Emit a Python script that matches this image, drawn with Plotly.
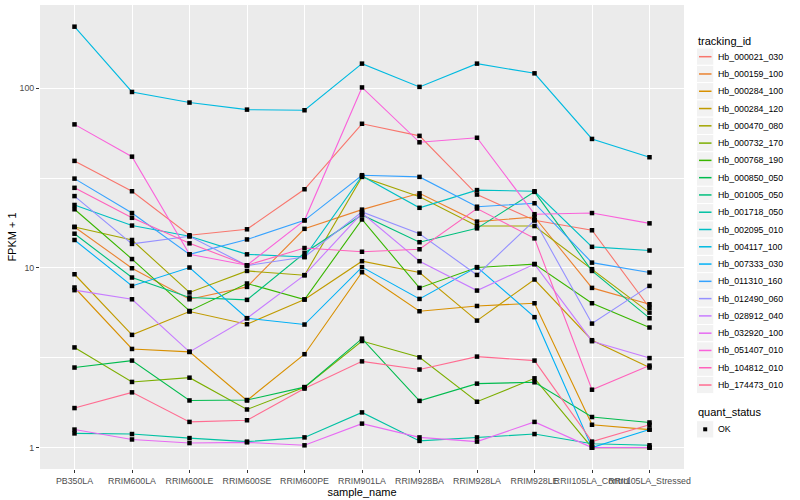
import plotly.graph_objects as go

# ---------------- data ----------------
sample_names = ["PB350LA", "RRIM600LA", "RRIM600LE", "RRIM600SE", "RRIM600PE",
                "RRIM901LA", "RRIM928BA", "RRIM928LA", "RRIM928LE",
                "RRII105LA_Control", "RRII105LA_Stressed"]

tracking_ids = ["Hb_000021_030", "Hb_000159_100", "Hb_000284_100", "Hb_000284_120",
                "Hb_000470_080", "Hb_000732_170", "Hb_000768_190", "Hb_000850_050",
                "Hb_001005_050", "Hb_001718_050", "Hb_002095_010", "Hb_004117_100",
                "Hb_007333_030", "Hb_011310_160", "Hb_012490_060", "Hb_028912_040",
                "Hb_032920_100", "Hb_051407_010", "Hb_104812_010", "Hb_174473_010"]

hue_colors = ["#F8766D", "#EA8331", "#D89000", "#C09B00", "#A3A500", "#7CAE00",
              "#39B600", "#00BB4E", "#00BF7D", "#00C1A3", "#00BFC4", "#00BAE0",
              "#00B0F6", "#35A2FF", "#9590FF", "#C77CFF", "#E76BF3", "#FA62DB",
              "#FF62BC", "#FF6C91"]

# FPKM + 1 per sample (order of sample_names)
hb_000021_030 = [39.4, 26.7, 15.2, 16.4, 27.4, 63.4, 54.3, 25.6, 18.4, 16.2, 6.0]
hb_000159_100 = [16.9, 9.96, 6.69, 7.84, 16.5, 21.1, 26.0, 18.1, 19.2, 7.74, 6.28]
hb_000284_100 = [7.78, 3.54, 3.41, 1.83, 3.31, 9.46, 5.74, 6.14, 6.36, 1.34, 1.26]
hb_000284_120 = [9.22, 4.24, 5.72, 4.86, 6.67, 10.9, 9.43, 5.09, 8.62, 3.96, 2.79]
hb_000470_080 = [16.9, 14.3, 7.3, 9.62, 9.11, 32.1, 24.9, 17.1, 17.1, 9.84, 5.64]
hb_000732_170 = [3.61, 2.32, 2.45, 1.63, 2.17, 3.92, 3.18, 1.80, 2.43, 1.0, 1.0]
hb_000768_190 = [21.2, 11.2, 5.76, 8.19, 6.67, 18.6, 7.74, 10.05, 10.5, 6.36, 4.66]
hb_000850_050 = [2.79, 3.05, 1.83, 1.84, 2.17, 4.04, 1.82, 2.27, 2.31, 1.48, 1.38]
hb_001005_050 = [15.5, 8.84, 6.84, 6.64, 12.1, 19.7, 13.9, 16.6, 26.5, 9.62, 5.25]
hb_001718_050 = [1.20, 1.19, 1.13, 1.08, 1.14, 1.57, 1.09, 1.14, 1.19, 1.05, 1.03]
hb_002095_010 = [22.4, 17.2, 15.0, 11.9, 11.5, 32.5, 21.6, 27.1, 26.7, 13.1, 12.5]
hb_004117_100 = [220, 95.3, 83.2, 76.0, 75.4, 137, 101.7, 137, 121, 52.2, 41.3]
hb_007333_030 = [14.3, 7.94, 10.05, 5.25, 4.84, 10.1, 6.72, 10.1, 5.32, 1.0, 1.26]
hb_011310_160 = [31.4, 20.2, 11.9, 14.4, 18.4, 32.8, 32.1, 21.9, 22.9, 10.7, 9.43]
hb_012490_060 = [25.1, 13.6, 15.0, 10.3, 11.5, 20.5, 15.5, 9.14, 18.4, 4.9, 7.94]
hb_028912_040 = [7.52, 6.69, 3.41, 5.25, 9.11, 20.2, 10.9, 7.48, 10.5, 3.91, 3.15]
hb_032920_100 = [1.26, 1.11, 1.06, 1.07, 1.03, 1.36, 1.14, 1.08, 1.39, 1.0, 1.0]
hb_051407_010 = [62.9, 41.6, 11.9, 10.35, 18.4, 101, 50.0, 53.0, 19.9, 20.2, 17.7]
hb_104812_010 = [27.9, 19.0, 13.7, 10.35, 12.9, 12.3, 12.7, 21.4, 14.6, 2.1, 2.86]
hb_174473_010 = [1.66, 2.03, 1.39, 1.42, 2.13, 3.02, 2.72, 3.21, 3.05, 1.08, 1.34]

series_values = [hb_000021_030, hb_000159_100, hb_000284_100, hb_000284_120,
                 hb_000470_080, hb_000732_170, hb_000768_190, hb_000850_050,
                 hb_001005_050, hb_001718_050, hb_002095_010, hb_004117_100,
                 hb_007333_030, hb_011310_160, hb_012490_060, hb_028912_040,
                 hb_032920_100, hb_051407_010, hb_104812_010, hb_174473_010]

quant_status = "OK"

# ---------------- layout constants ----------------
W, H = 800, 500
ML, MR, MT, MB = 40, 116, 5, 31
PW, PH = W - ML - MR, H - MT - MB
FONT = "Liberation Sans, Arial, Helvetica, sans-serif"


def px(xp):
    return (xp - ML) / PW


def py(yp):
    return (H - MB - yp) / PH


fig = go.Figure()

for tid, col, vals in zip(tracking_ids, hue_colors, series_values):
    fig.add_trace(go.Scatter(x=sample_names, y=vals, mode="lines", name=tid,
                             line=dict(color=col, width=1.1),
                             showlegend=False, hoverinfo="x+y+name"))

all_x, all_y = [], []
for vals in series_values:
    all_x += sample_names
    all_y += vals
fig.add_trace(go.Scatter(x=all_x, y=all_y, mode="markers", name=quant_status,
                         marker=dict(symbol="square", size=4.5, color="black"),
                         showlegend=False))

shapes = []
annotations = []

# legend: tracking_id
annotations.append(dict(text="tracking_id", x=px(696), y=py(40.7), xref="paper", yref="paper",
                        xanchor="left", yanchor="middle", showarrow=False,
                        font=dict(size=11, color="black", family=FONT)))
step = 17.28
for i, (tid, col) in enumerate(zip(tracking_ids, hue_colors)):
    cy = 56.7 + i * step
    shapes.append(dict(type="rect", xref="paper", yref="paper",
                       x0=px(696.5), x1=px(713.8), y0=py(cy + step / 2), y1=py(cy - step / 2),
                       fillcolor="#F2F2F2", line=dict(color="white", width=1), layer="above"))
    shapes.append(dict(type="line", xref="paper", yref="paper",
                       x0=px(699), x1=px(711.5), y0=py(cy), y1=py(cy),
                       line=dict(color=col, width=1.5), layer="above"))
    annotations.append(dict(text=tid, x=px(715.5), y=py(cy), xref="paper", yref="paper",
                            xanchor="left", yanchor="middle", showarrow=False,
                            font=dict(size=8.8, color="black", family=FONT)))

# legend: quant_status
annotations.append(dict(text="quant_status", x=px(696), y=py(412.3), xref="paper", yref="paper",
                        xanchor="left", yanchor="middle", showarrow=False,
                        font=dict(size=11, color="black", family=FONT)))
cy = 429.3
shapes.append(dict(type="rect", xref="paper", yref="paper",
                   x0=px(696.5), x1=px(713.8), y0=py(cy + step / 2), y1=py(cy - step / 2),
                   fillcolor="#F2F2F2", line=dict(color="white", width=1), layer="above"))
shapes.append(dict(type="rect", xref="paper", yref="paper",
                   x0=px(703.2), x1=px(707.2), y0=py(cy + 2), y1=py(cy - 2),
                   fillcolor="black", line=dict(width=0), layer="above"))
annotations.append(dict(text=quant_status, x=px(715.5), y=py(cy), xref="paper", yref="paper",
                        xanchor="left", yanchor="middle", showarrow=False,
                        font=dict(size=8.8, color="black", family=FONT)))

fig.update_layout(
    width=W, height=H,
    margin=dict(l=ML, r=MR, t=MT, b=MB, pad=0),
    paper_bgcolor="white",
    plot_bgcolor="#EBEBEB",
    font=dict(family=FONT, color="black"),
    showlegend=False,
    shapes=shapes,
    annotations=annotations,
    xaxis=dict(
        type="category", categoryorder="array", categoryarray=sample_names,
        range=[-0.6, len(sample_names) - 0.4],
        tickangle=0, ticks="outside", ticklen=3, tickwidth=1, tickcolor="#333333",
        tickfont=dict(size=8.8, color="#4D4D4D", family=FONT),
        showgrid=True, gridcolor="white", gridwidth=1.1,
        zeroline=False, showline=False, automargin=False,
        title=dict(text="sample_name", font=dict(size=11, color="black", family=FONT), standoff=0),
    ),
    yaxis=dict(
        type="log", range=[-0.119, 2.463],
        tickvals=[1, 10, 100], ticktext=["1", "10", "100"],
        ticks="outside", ticklen=3, tickwidth=1, tickcolor="#333333",
        tickfont=dict(size=8.8, color="#4D4D4D", family=FONT),
        showgrid=True, gridcolor="white", gridwidth=1.1,
        minor=dict(tickvals=[3.1623, 31.623], showgrid=True, gridcolor="white",
                   gridwidth=0.55, ticks=""),
        zeroline=False, showline=False, automargin=False,
        title=dict(text="FPKM + 1", font=dict(size=11, color="black", family=FONT), standoff=0),
    ),
)

fig.write_html("out.html", config={"displayModeBar": False},
               post_script="document.body.style.margin='0px';")
